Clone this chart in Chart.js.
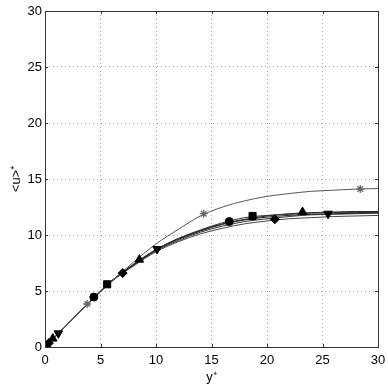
<!DOCTYPE html>
<html>
<head>
<meta charset="utf-8">
<script src="https://cdn.jsdelivr.net/npm/chart.js@4.4.0/dist/chart.umd.min.js"></script>
<style>
  body { margin: 0; background: #fff; }
  #chart { display: block; }
</style>
</head>
<body>
<canvas id="chart" width="388" height="388"></canvas>
<script>
// y+ positions where curves were read
const yPlus = [0, 2, 4, 6, 8, 10, 12, 14, 16, 18, 20, 22, 24, 26, 28, 30];

// <u>+ for each profile
const uStar    = [0, 2, 3.95, 5.85, 7.6, 9.2, 10.5, 11.7, 12.5, 13.05, 13.45, 13.7, 13.9, 14.0, 14.1, 14.15];
const uCircle  = [0, 2, 4, 5.9, 7.35, 8.65, 9.6, 10.35, 10.95, 11.35, 11.6, 11.75, 11.85, 11.9, 11.95, 12.0];
const uSquare  = [0, 2, 4, 5.9, 7.4, 8.7, 9.7, 10.45, 11.1, 11.55, 11.75, 11.85, 11.95, 12.0, 12.0, 12.05];
const uDiamond = [0, 2, 4, 5.85, 7.25, 8.5, 9.4, 10.1, 10.6, 11.0, 11.25, 11.45, 11.55, 11.65, 11.7, 11.75];
const uTriUp   = [0, 2, 4, 5.9, 7.4, 8.7, 9.65, 10.4, 11.0, 11.4, 11.7, 11.9, 12.0, 12.05, 12.1, 12.1];
const uTriDown = [0, 2, 4, 5.85, 7.3, 8.6, 9.5, 10.25, 10.8, 11.2, 11.45, 11.65, 11.8, 11.85, 11.9, 11.95];

// marker positions
const starX = [3.8, 14.3, 28.4],  starY = [3.84, 11.9, 14.1];
const circX = [0.05, 4.4, 16.6],  circY = [0.05, 4.46, 11.2];
const sqX   = [0.15, 5.6, 18.7],  sqY   = [0.15, 5.6, 11.7];
const diaX  = [0.35, 7.0, 20.7],  diaY  = [0.35, 6.6, 11.4];
const upX   = [0.7, 8.5, 23.2],   upY   = [0.75, 7.8, 12.05];
const downX = [1.2, 10.1, 25.5],  downY = [1.22, 8.75, 11.9];

const ticks = [0, 5, 10, 15, 20, 25, 30];

function pts(xs, ys) {
  return xs.map((x, i) => ({ x: x, y: ys[i] }));
}

function curve(u, color, width) {
  return {
    type: 'line',
    data: pts(yPlus, u),
    borderColor: color,
    borderWidth: width,
    pointRadius: 0,
    cubicInterpolationMode: 'monotone',
    fill: false
  };
}

function markers(xs, ys, style, radius, color, rotation) {
  return {
    type: 'scatter',
    data: pts(xs, ys),
    pointStyle: style,
    pointRadius: radius,
    pointRotation: rotation || 0,
    backgroundColor: color,
    borderColor: color,
    borderWidth: style === 'star' ? 1.3 : 1,
    showLine: false
  };
}

// matlab style box with inward ticks
const frame = {
  id: 'frame',
  afterDraw(c) {
    const { ctx, chartArea: a, scales } = c;
    ctx.save();
    ctx.strokeStyle = '#333';
    ctx.lineWidth = 1;
    ctx.beginPath();
    ticks.forEach(v => {
      const px = Math.round(scales.x.getPixelForValue(v)) + 0.5;
      ctx.moveTo(px, a.bottom); ctx.lineTo(px, a.bottom - 3);
      ctx.moveTo(px, a.top); ctx.lineTo(px, a.top + 3);
      const py = Math.round(scales.y.getPixelForValue(v)) + 0.5;
      ctx.moveTo(a.left, py); ctx.lineTo(a.left + 3, py);
      ctx.moveTo(a.right, py); ctx.lineTo(a.right - 3, py);
    });
    ctx.stroke();
    ctx.strokeRect(a.left + 0.5, a.top + 0.5, a.right - a.left, a.bottom - a.top);
    ctx.restore();
  }
};

const font = { family: 'Liberation Sans, Arial, sans-serif', size: 13 };
const gridOpts = { color: '#aaa', drawTicks: false, lineWidth: 1 };
const borderOpts = { display: false, dash: [1, 3] };

new Chart(document.getElementById('chart'), {
  data: {
    datasets: [
      markers(starX, starY, 'star', 4, '#666'),
      markers(circX, circY, 'circle', 4, '#000'),
      markers(sqX, sqY, 'rect', 5, '#000'),
      markers(diaX, diaY, 'rectRot', 4.5, '#000'),
      markers(upX, upY, 'triangle', 5, '#000'),
      markers(downX, downY, 'triangle', 5, '#000', 180),
      curve(uStar, '#555', 1),
      curve(uCircle, '#222', 1),
      curve(uSquare, '#333', 1),
      curve(uDiamond, '#444', 1),
      curve(uTriUp, '#222', 1),
      curve(uTriDown, '#333', 1)
    ]
  },
  options: {
    responsive: false,
    animation: false,
    devicePixelRatio: 1,
    layout: { padding: { top: 11, right: 10, left: 0, bottom: 0 } },
    plugins: { legend: { display: false }, tooltip: { enabled: false } },
    scales: {
      x: {
        type: 'linear',
        min: 0, max: 30,
        afterFit(s) { s.height = 41; s.paddingLeft = 0; s.paddingRight = 0; },
        afterBuildTicks(s) { s.ticks = ticks.map(v => ({ value: v })); },
        grid: gridOpts,
        border: borderOpts,
        ticks: { color: '#000', font: font, padding: 6, maxRotation: 0 },
        title: { display: true, text: 'y⁺', color: '#000', font: font, padding: { top: 0, bottom: 3 } }
      },
      y: {
        type: 'linear',
        min: 0, max: 30,
        afterFit(s) { s.width = 45; s.paddingTop = 0; s.paddingBottom = 0; },
        afterBuildTicks(s) { s.ticks = ticks.map(v => ({ value: v })); },
        grid: gridOpts,
        border: borderOpts,
        ticks: { color: '#000', font: font, padding: 3 },
        title: { display: true, text: '<u>⁺', color: '#000', font: font, padding: { top: 9, bottom: 0 } }
      }
    }
  },
  plugins: [frame]
});
</script>
</body>
</html>
